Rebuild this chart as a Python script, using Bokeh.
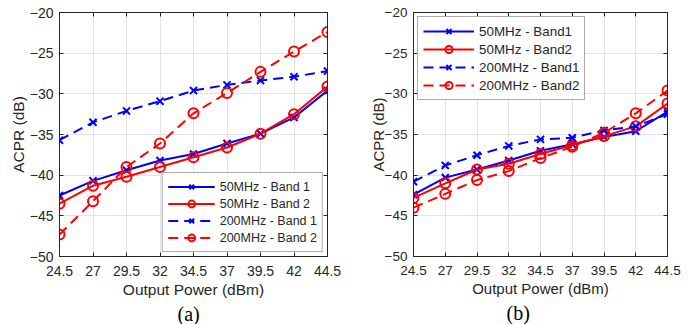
from bokeh.plotting import figure
from bokeh.layouts import row
from bokeh.models import (Range1d, FixedTicker, LinearAxis, Legend, LegendItem,
                          Title, NumeralTickFormatter)
from bokeh.embed import file_html
from bokeh.resources import INLINE

# Output power sweep (dBm) shared by both panels
power = [24.5, 27, 29.5, 32, 34.5, 37, 39.5, 42, 44.5]
acpr_ticks = [-50, -45, -40, -35, -30, -25, -20]

# Panel (a): ACPR (dB)
a_50_band1 = [-42.5, -40.7, -39.4, -38.2, -37.4, -36.1, -34.9, -32.9, -29.6]
a_50_band2 = [-43.5, -41.3, -40.2, -39.0, -37.8, -36.6, -34.9, -32.5, -29.1]
a_200_band1 = [-35.7, -33.5, -32.1, -30.9, -29.6, -28.9, -28.35, -27.9, -27.2]
a_200_band2 = [-47.3, -43.2, -39.0, -36.1, -32.4, -29.9, -27.3, -24.8, -22.4]

# Panel (b): ACPR (dB)
b_50_band1 = [-42.4, -40.3, -39.3, -38.2, -37.0, -36.2, -35.3, -34.6, -32.2]
b_50_band2 = [-42.8, -41.0, -39.3, -38.6, -37.4, -36.3, -35.2, -34.0, -31.2]
b_200_band1 = [-40.8, -38.8, -37.55, -36.4, -35.6, -35.4, -34.5, -34.0, -32.5]
b_200_band2 = [-44.0, -42.3, -40.6, -39.5, -37.9, -36.5, -34.8, -32.4, -29.6]

labels_a = ["50MHz - Band 1", "50MHz - Band 2", "200MHz - Band 1", "200MHz - Band 2"]
labels_b = ["50MHz - Band1", "50MHz - Band2", "200MHz - Band1", "200MHz - Band2"]

BLUE = "#0000FF"
RED = "#FF0000"
AX = "#262626"
SANS = "Liberation Sans"
SERIF = "Liberation Serif"


def panel(series, labels, tag, tag_offset, width, borders, tick_fs,
          label_fs, legend_fs, legend_loc, glyph_w, row_h, ylab_standoff):
    left, right, top, bottom = borders
    p = figure(width=width, height=324, output_backend="svg", toolbar_location=None,
               x_range=Range1d(24.5, 44.5), y_range=Range1d(-50, -20),
               min_border_left=left, min_border_right=right,
               min_border_top=top, min_border_bottom=bottom,
               background_fill_color="white", border_fill_color="white")
    p.outline_line_color = AX
    p.outline_line_width = 1

    p.xaxis.ticker = FixedTicker(ticks=power)
    p.yaxis.ticker = FixedTicker(ticks=acpr_ticks)
    p.xaxis.formatter = NumeralTickFormatter(format="0.[0]")
    p.xaxis.axis_label = "Output Power (dBm)"
    p.yaxis.axis_label = "ACPR (dB)"
    for ax in (p.xaxis[0], p.yaxis[0]):
        ax.axis_line_color = AX
        ax.major_tick_line_color = AX
        ax.major_tick_in = 4
        ax.major_tick_out = 0
        ax.minor_tick_line_color = None
        ax.major_label_text_font = SANS
        ax.major_label_text_font_size = tick_fs
        ax.major_label_text_color = AX
        ax.axis_label_text_font = SANS
        ax.axis_label_text_font_size = label_fs
        ax.axis_label_text_font_style = "normal"
        ax.axis_label_text_color = AX
    p.xaxis.major_label_standoff = 9
    p.xaxis.axis_label_standoff = 2
    p.yaxis.major_label_standoff = 6
    p.yaxis.axis_label_standoff = ylab_standoff

    # inward ticks on the top and right edges of the box (no labels there)
    for loc, ticks in (("right", acpr_ticks), ("above", power)):
        ax = LinearAxis(ticker=FixedTicker(ticks=ticks), axis_line_color=AX,
                        major_tick_line_color=AX, major_tick_in=4, major_tick_out=0,
                        minor_tick_line_color=None, major_label_text_font_size="1px",
                        major_label_text_color=None, major_label_standoff=0)
        p.add_layout(ax, loc)

    p.grid.grid_line_color = "#e3e3e3"
    p.grid.grid_line_width = 1

    styles = [(BLUE, "x", "solid"), (RED, "circle", "solid"),
              (BLUE, "x", "10 6"), (RED, "circle", "10 6")]
    items = []
    for ys, lab, (col, mk, dash) in zip(series, labels, styles):
        ln = p.line(power, ys, line_color=col, line_width=2, line_dash=dash)
        sc = p.scatter(power, ys, marker=mk, size=10, line_color=col, line_width=2,
                       fill_alpha=0)
        items.append(LegendItem(label=lab, renderers=[ln, sc]))

    lg = Legend(items=items, location=legend_loc, margin=4, padding=5, spacing=0,
                glyph_width=glyph_w, glyph_height=row_h, label_height=row_h,
                label_standoff=5, label_text_font=SANS, label_text_font_size=legend_fs,
                label_text_color=AX, border_line_color="#5a5a5a", border_line_width=1.5,
                background_fill_color="white", background_fill_alpha=1)
    p.add_layout(lg)

    p.add_layout(Title(text=tag, align="left", offset=tag_offset, standoff=0,
                       text_font=SERIF, text_font_size="20px",
                       text_font_style="normal", text_color="black"), "below")
    return p


pa = panel([a_50_band1, a_50_band2, a_200_band1, a_200_band2], labels_a, "(a)",
           118, 346, (59, 19, 12, 67), "14px", "15.5px", "12.5px",
           "bottom_right", 47, 17, 0)
pb = panel([b_50_band1, b_50_band2, b_200_band1, b_200_band2], labels_b, "(b)",
           93, 347, (67, 26, 12, 65), "13.5px", "15px", "13.4px",
           "top_left", 51, 18, -5)

layout = row(pa, pb)
open("out.html", "w").write(file_html(layout, INLINE))
